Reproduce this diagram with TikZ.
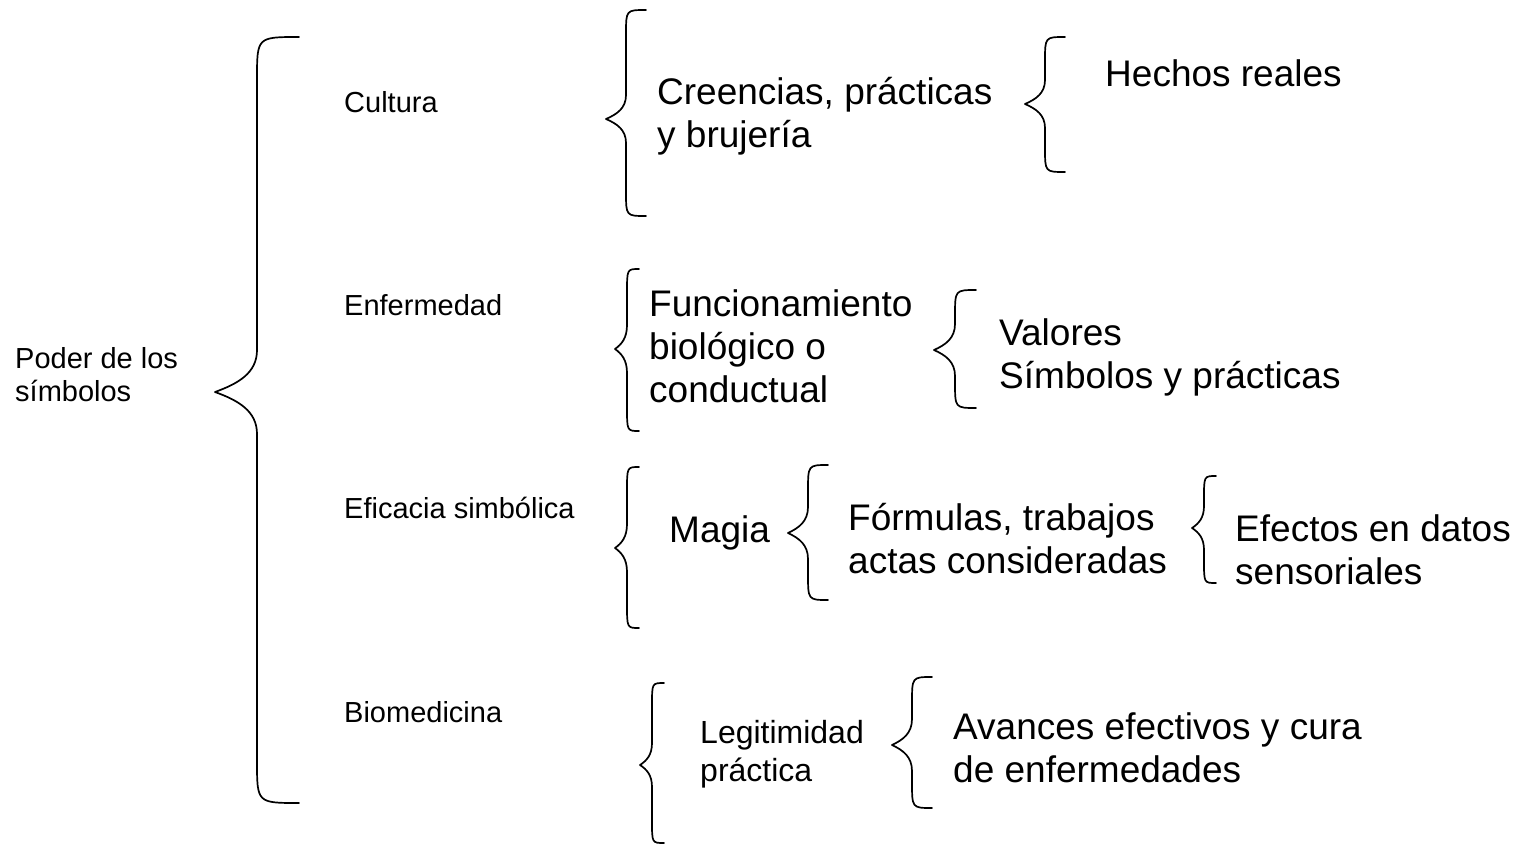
\documentclass[tikz,border=0pt]{standalone}
\usepackage{fontspec}
\setmainfont{Liberation Sans}
\usetikzlibrary{positioning}
\tikzset{
    head/.style={font=\fontsize{29}{33}\selectfont, anchor=west, align=left, inner sep=0pt},
    mid/.style={font=\fontsize{32}{38}\selectfont, anchor=west, align=left, inner sep=0pt},
    item/.style={font=\fontsize{37}{43}\selectfont, anchor=west, align=left, inner sep=0pt},
    brace/.style={draw, line width=1.7pt, line cap=round, line join=round}
}
% left curly brace: {stem x}{top}{tip}{bottom}{hook width}{hook height}
\newcommand{\curly}[6]{%
  \draw[brace] ({#1+#5},#2) .. controls (#1,#2) .. (#1,{#2+#6})
    -- (#1,{#3-#6})
    .. controls (#1,{#3-0.45*#6}) and ({#1-0.45*#5},{#3-0.2*#6}) .. ({#1-#5},#3)
    .. controls ({#1-0.45*#5},{#3+0.2*#6}) and (#1,{#3+0.45*#6}) .. (#1,{#3+#6})
    -- (#1,{#4-#6}) .. controls (#1,#4) .. ({#1+#5},#4);}

\begin{document}
\begin{tikzpicture}[x=1pt, y=-1pt]
    \useasboundingbox (0,0) rectangle (1520,845);

    \node[head] (poder) at (15,375) {Poder de los\\símbolos};

    \node[head] (cultura) at (344,102) {Cultura};
    \node[head] (enfermedad) at (344,305) {Enfermedad};
    \node[head] (eficacia) at (344,508) {Eficacia simbólica};
    \node[head] (biomedicina) at (344,712) {Biomedicina};

    \node[item] (creencias) at (657,116) {Creencias, prácticas\\y brujería};
    \node[item] (hechos) at (1105,73) {Hechos reales};

    \node[item] (funcionamiento) at (649,346) {Funcionamiento\\biológico o\\conductual};
    \node[item] (valores) at (999,357) {Valores\\Símbolos y prácticas};

    \node[item] (magia) at (669,533) {Magia};
    \node[item] (formulas) at (848,539) {Fórmulas, trabajos\\actas consideradas};
    \node[item] (efectos) at (1235,550) {Efectos en datos\\sensoriales};

    \node[mid] (legitimidad) at (700,754) {Legitimidad\\práctica};
    \node[item] (avances) at (953,748) {Avances efectivos y cura\\de enfermedades};

    % braces
    \curly{257}{37}{392}{803}{42}{42}
    \curly{626}{10}{119}{216}{20}{24}
    \curly{1045}{37}{104}{172}{20}{24}
    \curly{627}{269}{349}{431}{12}{24}
    \curly{955}{290}{350}{408}{21}{26}
    \curly{627}{467}{548}{628}{12}{24}
    \curly{808}{465}{533}{600}{20}{26}
    \curly{1204}{476}{528}{583}{12}{22}
    \curly{652}{683}{765}{843}{12}{22}
    \curly{912}{677}{745}{808}{20}{26}
\end{tikzpicture}
\end{document}
